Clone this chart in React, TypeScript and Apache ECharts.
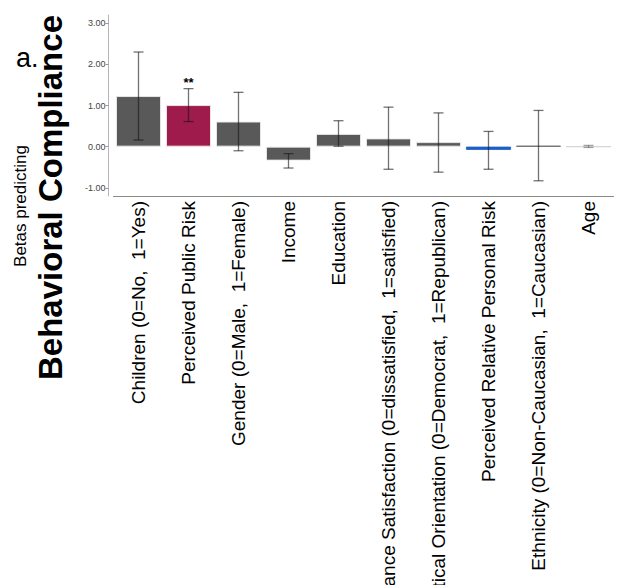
import React, { useEffect, useRef } from "react";
import * as echarts from "echarts";

const categories = [
  "Children (0=No,  1=Yes)",
  "Perceived Public Risk",
  "Gender (0=Male,  1=Female)",
  "Income",
  "Education",
  "Governance Satisfaction (0=dissatisfied,  1=satisfied)",
  "Political Orientation (0=Democrat,  1=Republican)",
  "Perceived Relative Personal Risk",
  "Ethnicity (0=Non-Caucasian,  1=Caucasian)",
  "Age",
];
const betas = [1.23, 1.01, 0.61, -0.34, 0.31, 0.2, 0.11, -0.08, 0.02, 0.0];
const ciLow = [0.16, 0.61, -0.1, -0.52, 0.01, -0.55, -0.62, -0.55, -0.83, -0.02];
const ciHigh = [2.3, 1.41, 1.32, -0.17, 0.63, 0.96, 0.82, 0.37, 0.88, 0.03];
const significance = ["", "**", "", "", "", "", "", "", "", ""];
const barColors = ["#595959", "#9e1b4b", "#595959", "#595959", "#595959", "#595959", "#595959", "#1f5fc4", "#595959", "#d0d0d0"];
const yTicks = [-1, 0, 1, 2, 3];

export default function App() {
  const ref = useRef<HTMLDivElement>(null);
  useEffect(() => {
    const chart = echarts.init(ref.current!, null, { renderer: "svg" });
    const font = "Liberation Sans, Arial, sans-serif";
    chart.setOption({
      animation: false,
      backgroundColor: "#ffffff",
      grid: {
        left: 113.5,
        right: 5.5,
        top: 15,
        height: 181,
        containLabel: false,
        outerBoundsMode: "none",
      },
      xAxis: {
        type: "category",
        data: categories,
        axisLine: { onZero: false, lineStyle: { color: "#8a8a8a", width: 1 } },
        axisTick: { alignWithLabel: true, length: 4, lineStyle: { color: "#b0b0b0" } },
        axisLabel: {
          rotate: 90,
          interval: 0,
          margin: 5,
          fontSize: 19,
          color: "#000",
          fontFamily: font,
        },
      },
      yAxis: {
        type: "value",
        min: -1.2,
        max: 3.2,
        offset: 5,
        axisLine: { show: true, lineStyle: { color: "#b5b5b5", width: 1 } },
        axisTick: { show: true, length: 3, customValues: yTicks, lineStyle: { color: "#999" } },
        axisLabel: {
          customValues: yTicks,
          formatter: (v: number) => v.toFixed(2),
          fontSize: 9,
          color: "#444",
          margin: 3,
          fontFamily: font,
        },
        splitLine: { show: false },
      },
      series: [
        {
          type: "bar",
          barCategoryGap: "10%",
          data: betas.map((v, i) => {
            const tiny = Math.abs(v) < 0.1;
            return {
              value: v,
              itemStyle: {
                color: barColors[i],
                borderColor: tiny ? barColors[i] : "rgba(235,235,235,0.9)",
                borderWidth: tiny ? 0.8 : 1,
              },
            };
          }),
        },
        {
          type: "custom",
          z: 5,
          data: betas.map((_, i) => [i, ciLow[i], ciHigh[i], significance[i]]),
          renderItem: (params: any, api: any) => {
            const idx = api.value(0);
            const lo = api.coord([idx, api.value(1)]);
            const hi = api.coord([idx, api.value(2)]);
            const sig = significance[idx];
            const hw = 5;
            const stroke = idx === 9 ? "rgba(0,0,0,0.35)" : "rgba(20,20,20,0.6)";
            const style = { stroke, lineWidth: 1.3 };
            const children: any[] = [
              { type: "line", shape: { x1: lo[0], y1: lo[1], x2: hi[0], y2: hi[1] }, style },
              { type: "line", shape: { x1: lo[0] - hw, y1: lo[1], x2: lo[0] + hw, y2: lo[1] }, style },
              { type: "line", shape: { x1: hi[0] - hw, y1: hi[1], x2: hi[0] + hw, y2: hi[1] }, style },
            ];
            if (sig) {
              children.push({
                type: "text",
                x: hi[0],
                y: hi[1],
                style: {
                  text: sig,
                  fill: "#000",
                  font: "bold 13px " + font,
                  textAlign: "center",
                  textVerticalAlign: "bottom",
                },
              });
            }
            return { type: "group", children };
          },
        },
      ],
      graphic: [
        {
          type: "text",
          left: 16,
          top: 44,
          style: { text: "a.", font: "27px " + font, fill: "#000" },
        },
        {
          type: "text",
          x: 50.5,
          y: 197.5,
          rotation: Math.PI / 2,
          style: {
            text: "Behavioral Compliance",
            font: "bold 33px " + font,
            fill: "#000",
            textAlign: "center",
            textVerticalAlign: "middle",
          },
        },
        {
          type: "text",
          x: 20.5,
          y: 206,
          rotation: Math.PI / 2,
          style: {
            text: "Betas predicting",
            font: "17px " + font,
            fill: "#000",
            textAlign: "center",
            textVerticalAlign: "middle",
          },
        },
      ],
    });
    return () => chart.dispose();
  }, []);
  return (
    <div
      ref={ref}
      style={{ position: "fixed", left: 0, top: 0, width: 619, height: 585 }}
    />
  );
}
